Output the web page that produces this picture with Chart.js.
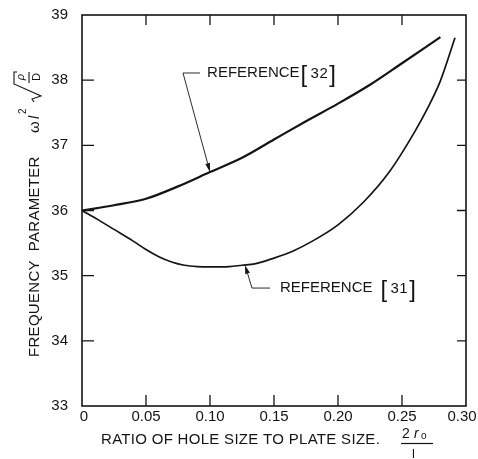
<!DOCTYPE html>
<html>
<head>
<meta charset="utf-8">
<script src="https://cdn.jsdelivr.net/npm/chart.js@4/dist/chart.umd.min.js"></script>
<style>
html,body{margin:0;padding:0;background:#fff;}
#wrap{width:478px;height:459px;}
</style>
</head>
<body>
<div id="wrap"><canvas id="c" width="478" height="459"></canvas></div>
<script>
// ---- data ----
const ref32X = [0, 0.025, 0.05, 0.075, 0.10, 0.125, 0.15, 0.175, 0.20, 0.225, 0.25, 0.28];
const ref32Y = [36.00, 36.08, 36.18, 36.37, 36.59, 36.81, 37.09, 37.37, 37.64, 37.93, 38.26, 38.66];

const ref31X = [0, 0.0125, 0.025, 0.04, 0.05, 0.06, 0.07, 0.08, 0.09, 0.10, 0.115, 0.125, 0.135, 0.15, 0.165, 0.18, 0.20, 0.22, 0.24, 0.26, 0.27, 0.28, 0.2914];
const ref31Y = [36.00, 35.86, 35.71, 35.53, 35.40, 35.29, 35.21, 35.16, 35.14, 35.135, 35.14, 35.16, 35.18, 35.27, 35.38, 35.53, 35.78, 36.13, 36.59, 37.21, 37.57, 37.99, 38.65];

const xTickValues = [0, 0.05, 0.10, 0.15, 0.20, 0.25, 0.30];
const xTickLabels = ['0', '0.05', '0.10', '0.15', '0.20', '0.25', '0.30'];
const yTickValues = [33, 34, 35, 36, 37, 38, 39];
const yTickLabels = ['33', '34', '35', '36', '37', '38', '39'];

const seriesNames = ['REFERENCE', 'REFERENCE'];
const seriesRefs = ['32', '31'];
const xTitle = 'RATIO OF HOLE SIZE TO PLATE SIZE.';
const yTitle = 'FREQUENCY  PARAMETER';

// annotation anchors in data units (tip, elbow, leader end, text start)
const note32 = {tip: [0.100, 36.59], elbow: [0.0789, 38.11], end: [0.0922, 38.11], text: [0.0977, 38.11]};
const note31 = {tip: [0.1273, 35.165], elbow: [0.1328, 34.81], end: [0.1469, 34.81], text: [0.1547, 34.81]};

const INK = '#141414';
const FONT = '"Liberation Sans", Arial, sans-serif';

function pts(xs, ys) { return xs.map((x, i) => ({x: x, y: ys[i]})); }

const decor = {
  id: 'decor',
  afterDraw(chart) {
    const ctx = chart.ctx;
    const a = chart.chartArea;
    const xs = chart.scales.x, ys = chart.scales.y;
    ctx.save();
    ctx.strokeStyle = INK;
    ctx.fillStyle = INK;
    // frame
    ctx.lineWidth = 1.6;
    ctx.strokeRect(a.left, a.top, a.right - a.left, a.bottom - a.top);
    // inward ticks
    ctx.lineWidth = 1.3;
    ctx.beginPath();
    xTickValues.forEach(v => {
      const px = xs.getPixelForValue(v);
      if (v > 0 && v < 0.3) {
        ctx.moveTo(px, a.bottom); ctx.lineTo(px, a.bottom - 11);
        ctx.moveTo(px, a.top); ctx.lineTo(px, a.top + 10);
      }
    });
    yTickValues.forEach(v => {
      const py = ys.getPixelForValue(v);
      if (v > 33 && v < 39) {
        ctx.moveTo(a.left, py); ctx.lineTo(a.left + 12, py);
        ctx.moveTo(a.right, py); ctx.lineTo(a.right - 9, py);
      }
    });
    ctx.stroke();

    // x tick labels (centred on ticks, outer ones nudged inside like the original)
    ctx.font = '15px ' + FONT;
    ctx.textBaseline = 'middle';
    ctx.textAlign = 'center';
    xTickValues.forEach((v, i) => {
      let px = xs.getPixelForValue(v);
      if (i === 0) px += 2;
      if (i === xTickValues.length - 1) px -= 4;
      ctx.fillText(xTickLabels[i], px, a.bottom + 11);
    });

    // x title
    ctx.font = '15px ' + FONT;
    ctx.letterSpacing = '0.3px';
    ctx.textBaseline = 'middle';
    ctx.textAlign = 'left';
    ctx.fillText(xTitle, 101, 440);
    // fraction 2r0 / l
    ctx.letterSpacing = '0px';
    ctx.textBaseline = 'alphabetic';
    ctx.font = '14px ' + FONT;
    ctx.fillText('2', 402, 438);
    ctx.font = 'italic 14px ' + FONT;
    ctx.fillText('r', 414, 438);
    ctx.font = '10px ' + FONT;
    ctx.fillText('o', 421, 439);
    ctx.lineWidth = 1.2;
    ctx.beginPath(); ctx.moveTo(401, 443.5); ctx.lineTo(433, 443.5); ctx.stroke();
    ctx.font = '13px ' + FONT;
    ctx.fillText('l', 412, 458);

    // y title (rotated)
    ctx.save();
    ctx.translate(39, 357);
    ctx.rotate(-Math.PI / 2);
    ctx.textBaseline = 'alphabetic';
    ctx.textAlign = 'left';
    ctx.font = '15px ' + FONT;
    ctx.letterSpacing = '0.3px';
    ctx.fillText(yTitle, 0, 0);
    ctx.letterSpacing = '0px';
    ctx.font = '15px ' + FONT;
    ctx.fillText('\u03c9', 224, 0);
    ctx.font = 'italic 14px ' + FONT;
    ctx.fillText('l', 238, 0);
    ctx.font = '10px ' + FONT;
    ctx.fillText('2', 243, -13);
    // radical
    ctx.lineWidth = 1.1;
    ctx.beginPath();
    ctx.moveTo(255, -5);
    ctx.lineTo(258, -7);
    ctx.lineTo(261, 2);
    ctx.lineTo(273, -25);
    ctx.lineTo(285, -25);
    ctx.lineTo(285, -22);
    ctx.stroke();
    ctx.font = 'italic 11px ' + FONT;
    ctx.textAlign = 'center';
    ctx.fillText('\u03c1', 280, -15);
    ctx.beginPath(); ctx.moveTo(274, -10); ctx.lineTo(285, -10); ctx.stroke();
    ctx.font = '11px ' + FONT;
    ctx.fillText('D', 280, 1);
    ctx.restore();

    // annotations
    function P(p) { return [xs.getPixelForValue(p[0]), ys.getPixelForValue(p[1])]; }
    function note(n, name, ref, refPos) {
      const tip = P(n.tip), el = P(n.elbow), en = P(n.end), tx = P(n.text);
      ctx.lineWidth = 0.9;
      ctx.beginPath();
      ctx.moveTo(en[0], en[1]); ctx.lineTo(el[0], el[1]);
      const ang = Math.atan2(tip[1] - el[1], tip[0] - el[0]);
      const L = 9, W = 2.4;
      const bx = tip[0] - L * Math.cos(ang), by = tip[1] - L * Math.sin(ang);
      ctx.lineTo(bx, by);
      ctx.stroke();
      ctx.beginPath();
      ctx.moveTo(tip[0], tip[1]);
      ctx.lineTo(bx + W * Math.sin(ang), by - W * Math.cos(ang));
      ctx.lineTo(bx - W * Math.sin(ang), by + W * Math.cos(ang));
      ctx.closePath();
      ctx.fill();
      ctx.font = '15px ' + FONT;
      ctx.letterSpacing = '0px';
      ctx.textAlign = 'left';
      ctx.textBaseline = 'middle';
      ctx.fillText(name, tx[0], tx[1]);
      const w = ctx.measureText(name).width;
      const bx0 = tx[0] + w + refPos;
      ctx.font = '200 24px ' + FONT;
      ctx.fillText('[', bx0, tx[1] + 2);
      ctx.font = '15px ' + FONT;
      ctx.letterSpacing = '0.5px';
      ctx.fillText(ref, bx0 + 10, tx[1] + 1);
      const w2 = ctx.measureText(ref).width;
      ctx.font = '200 24px ' + FONT;
      ctx.letterSpacing = '0px';
      ctx.fillText(']', bx0 + 11 + w2, tx[1] + 2);
    }
    note(note32, seriesNames[0], seriesRefs[0], 1);
    note(note31, seriesNames[1], seriesRefs[1], 8);
    ctx.restore();
  }
};

new Chart(document.getElementById('c'), {
  type: 'line',
  data: {
    datasets: [
      {label: seriesNames[0] + ' [' + seriesRefs[0] + ']', data: pts(ref32X, ref32Y), borderColor: INK, borderWidth: 2.2, pointRadius: 0, cubicInterpolationMode: 'monotone', fill: false},
      {label: seriesNames[1] + ' [' + seriesRefs[1] + ']', data: pts(ref31X, ref31Y), borderColor: INK, borderWidth: 1.7, pointRadius: 0, cubicInterpolationMode: 'monotone', fill: false}
    ]
  },
  options: {
    responsive: false,
    animation: false,
    devicePixelRatio: 1,
    layout: {padding: {top: 15, right: 12, left: 0, bottom: 0}},
    plugins: {legend: {display: false}, tooltip: {enabled: false}},
    scales: {
      x: {
        type: 'linear', min: 0, max: 0.30,
        grid: {display: false, drawTicks: false},
        border: {display: false},
        afterBuildTicks: s => { s.ticks = xTickValues.map(v => ({value: v})); },
        afterFit: s => { s.height = 53; s.paddingLeft = 0; s.paddingRight = 0; },
        ticks: {display: false}
      },
      y: {
        type: 'linear', min: 33, max: 39,
        grid: {display: false, drawTicks: false},
        border: {display: false},
        afterBuildTicks: s => { s.ticks = yTickValues.map(v => ({value: v})); },
        afterFit: s => { s.width = 82; s.paddingTop = 0; s.paddingBottom = 0; },
        ticks: {
          padding: 14, color: INK,
          font: {family: FONT, size: 15},
          callback: (v, i) => yTickLabels[i]
        }
      }
    }
  },
  plugins: [decor]
});
</script>
</body>
</html>
